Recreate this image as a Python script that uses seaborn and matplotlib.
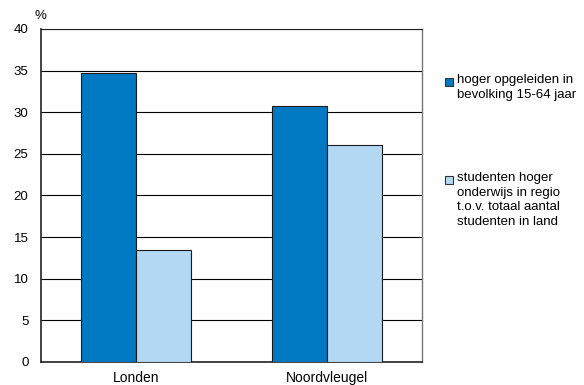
import matplotlib
matplotlib.use("Agg")
import matplotlib.pyplot as plt
from matplotlib.patches import Rectangle
import seaborn as sns
import pandas as pd

categories = ["Londen", "Noordvleugel"]
series_names = ["hoger opgeleiden in\nbevolking 15-64 jaar",
                "studenten hoger\nonderwijs in regio\nt.o.v. totaal aantal\nstudenten in land"]
hoger_opgeleiden = [34.7, 30.8]
studenten = [13.4, 26.1]
colors = ["#0079C2", "#B3D8F3"]
yticks = [0, 5, 10, 15, 20, 25, 30, 35, 40]

rows = []
for c, v in zip(categories, hoger_opgeleiden):
    rows.append({"regio": c, "reeks": series_names[0], "waarde": v})
for c, v in zip(categories, studenten):
    rows.append({"regio": c, "reeks": series_names[1], "waarde": v})
df = pd.DataFrame(rows)

sns.set_style("white")
plt.rcParams["font.family"] = ["Liberation Sans", "DejaVu Sans"]
plt.rcParams["text.color"] = "black"
plt.rcParams["xtick.color"] = "black"
plt.rcParams["ytick.color"] = "black"

fig = plt.figure(figsize=(5.84, 3.85), dpi=100)
ax = fig.add_axes([41/584, 23/385, 381/584, 333/385])

sns.barplot(data=df, x="regio", y="waarde", hue="reeks", palette=colors,
            saturation=1, width=0.58, edgecolor="#1a1a1a", linewidth=0.8,
            ax=ax, zorder=3, legend=False)

ax.set_ylim(0, 40)
ax.set_yticks(yticks)
ax.set_yticklabels([str(t) for t in yticks], fontsize=9.5)
ax.tick_params(axis="x", labelsize=10, length=0, pad=6.5)
ax.tick_params(axis="y", length=0, pad=9)
ax.set_xlabel("")
ax.set_ylabel("")
ax.yaxis.grid(True, color="black", linewidth=0.8, zorder=0)
ax.set_axisbelow(True)
for s in ["left", "bottom"]:
    ax.spines[s].set_color("#222222")
    ax.spines[s].set_linewidth(1.2)
ax.spines["right"].set_color("#777777")
ax.spines["right"].set_linewidth(1.0)
ax.spines["top"].set_color("#222222")
ax.spines["top"].set_linewidth(0.8)

W, H = 584, 385
fig.text(40/W, 1 - 16/H, "%", fontsize=9.5, ha="center", va="center")

# legend (manual, aligned with first text line)
entry_y = [82, 180]
for name, col, y in zip(series_names, colors, entry_y):
    fig.patches.append(Rectangle((445/W, 1 - (y + 4)/H), 8/W, 8/H,
                                 transform=fig.transFigure, facecolor=col,
                                 edgecolor="#333333", linewidth=0.8))
    fig.text(457/W, 1 - (y - 7.5)/H, name, fontsize=9.5, ha="left", va="top",
             linespacing=1.27)

fig.savefig("out.png", dpi=100)
